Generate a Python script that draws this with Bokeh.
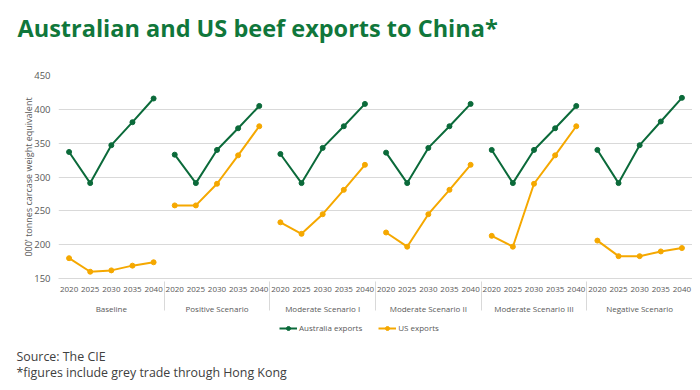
from bokeh.plotting import figure
from bokeh.layouts import column
from bokeh.models import (FactorRange, Legend, LegendItem, Label, SingleIntervalTicker,
                          Range1d)
from bokeh.embed import file_html
from bokeh.resources import INLINE

scenarios = ["Baseline", "Positive Scenario", "Moderate Scenario I",
             "Moderate Scenario II", "Moderate Scenario III", "Negative Scenario"]
years = ["2020", "2025", "2030", "2035", "2040"]

aus_baseline = [337, 291, 347, 381, 416]
aus_positive = [333, 291, 340, 372, 405]
aus_moderate_1 = [334, 291, 343, 375, 408]
aus_moderate_2 = [336, 291, 343, 375, 408]
aus_moderate_3 = [340, 291, 340, 372, 405]
aus_negative = [340, 291, 347, 382, 417]

us_baseline = [180, 160, 162, 169, 174]
us_positive = [258, 258, 290, 332, 375]
us_moderate_1 = [233, 216, 245, 281, 318]
us_moderate_2 = [218, 197, 245, 281, 318]
us_moderate_3 = [213, 197, 290, 332, 375]
us_negative = [206, 183, 183, 190, 195]

aus_series = [aus_baseline, aus_positive, aus_moderate_1, aus_moderate_2, aus_moderate_3, aus_negative]
us_series = [us_baseline, us_positive, us_moderate_1, us_moderate_2, us_moderate_3, us_negative]

AUS_COLOR = "#0B6A3A"
US_COLOR = "#F5A800"
GREY = "#595959"
FONT = "Open Sans"
W = 692


def blank(height):
    f = figure(width=W, height=height, x_range=Range1d(0, W), y_range=Range1d(0, height),
               x_axis_type=None, y_axis_type=None, output_backend="svg",
               toolbar_location=None, min_border=0)
    f.frame_align = False
    f.outline_line_color = None
    f.xgrid.grid_line_color = None
    f.ygrid.grid_line_color = None
    return f


# ---- header with the title
head = blank(50)
head.add_layout(Label(x=17, y=23, x_units="screen", y_units="screen",
                      text="Australian and US beef exports to China*",
                      text_font=FONT, text_font_style="bold", text_font_size="23.5px",
                      text_color="#10773B", text_baseline="alphabetic"))

# ---- main chart
factors = [(s, y) for s in scenarios for y in years]
x_range = FactorRange(*factors, factor_padding=0, group_padding=0, range_padding=0)

p = figure(width=W, height=266, x_range=x_range, y_range=Range1d(150, 450),
           output_backend="svg", toolbar_location=None,
           min_border_left=58, min_border_right=0, min_border_top=25, min_border_bottom=36)
p.frame_align = False
p.outline_line_color = None

for s, a_vals, u_vals in zip(scenarios, aus_series, us_series):
    xs = [(s, y) for y in years]
    p.line(xs, a_vals, line_color=AUS_COLOR, line_width=2)
    p.scatter(xs, a_vals, marker="circle", size=5, fill_color=AUS_COLOR, line_color=AUS_COLOR)
    p.line(xs, u_vals, line_color=US_COLOR, line_width=2)
    p.scatter(xs, u_vals, marker="circle", size=5, fill_color=US_COLOR, line_color=US_COLOR)

p.yaxis.ticker = SingleIntervalTicker(interval=50)
p.yaxis.axis_line_color = None
p.yaxis.major_tick_line_color = None
p.yaxis.minor_tick_line_color = None
p.yaxis.major_tick_out = 0
p.yaxis.major_tick_in = 0
p.yaxis.minor_tick_out = 0
p.yaxis.major_label_text_color = GREY
p.yaxis.major_label_text_font = FONT
p.yaxis.major_label_text_font_size = "9.5px"
p.yaxis.major_label_standoff = 8
p.yaxis.axis_label = "000' tonnes carcase weight equivalent"
p.yaxis.axis_label_text_font = FONT
p.yaxis.axis_label_text_font_size = "9px"
p.yaxis.axis_label_text_font_style = "normal"
p.yaxis.axis_label_text_color = GREY
p.yaxis.axis_label_standoff = -4

p.xaxis.axis_line_color = "#D9D9D9"
p.xaxis.major_tick_line_color = None
p.xaxis.minor_tick_line_color = None
p.xaxis.major_tick_out = 0
p.xaxis.major_tick_in = 0
p.xaxis.minor_tick_out = 0
p.xaxis.major_label_text_color = GREY
p.xaxis.major_label_text_font = FONT
p.xaxis.major_label_text_font_size = "8px"
p.xaxis.major_label_standoff = 8
p.xaxis.group_text_font = FONT
p.xaxis.group_text_font_size = "8px"
p.xaxis.group_text_font_style = "normal"
p.xaxis.group_text_color = GREY
p.xaxis.separator_line_color = "#D9D9D9"
p.xaxis.separator_line_width = 1

p.xgrid.grid_line_color = None
p.ygrid.grid_line_color = "#D9D9D9"
p.ygrid.grid_line_width = 1

# ---- footer with legend and source notes
foot = blank(70)
# legend keys: drawn from the data but lying outside the footer's visible range
key_aus = [foot.line(aus_baseline[:2], aus_baseline[:2], line_color=AUS_COLOR, line_width=2),
           foot.scatter(aus_baseline[:2], aus_baseline[:2], marker="circle", size=5,
                        fill_color=AUS_COLOR, line_color=AUS_COLOR)]
key_us = [foot.line(us_baseline[:2], us_baseline[:2], line_color=US_COLOR, line_width=2),
          foot.scatter(us_baseline[:2], us_baseline[:2], marker="circle", size=5,
                       fill_color=US_COLOR, line_color=US_COLOR)]
legend = Legend(items=[LegendItem(label="Australia exports", renderers=key_aus),
                       LegendItem(label="US exports", renderers=key_us)],
                orientation="horizontal", location=(279, 53),
                label_text_font=FONT, label_text_font_size="8px", label_text_color=GREY,
                glyph_width=18, glyph_height=10, spacing=16, label_standoff=2,
                label_height=10, border_line_color=None, background_fill_alpha=0,
                padding=2, margin=0)
foot.add_layout(legend)
foot.add_layout(Label(x=16, y=30, x_units="screen", y_units="screen", text="Source: The CIE",
                      text_font=FONT, text_font_size="12.4px", text_color="#404040",
                      text_baseline="middle"))
foot.add_layout(Label(x=16, y=14, x_units="screen", y_units="screen",
                      text="*figures include grey trade through Hong Kong",
                      text_font=FONT, text_font_size="12.4px", text_color="#404040",
                      text_baseline="middle"))

layout = column(head, p, foot, spacing=0)
open("out.html", "w").write(file_html(layout, INLINE))
